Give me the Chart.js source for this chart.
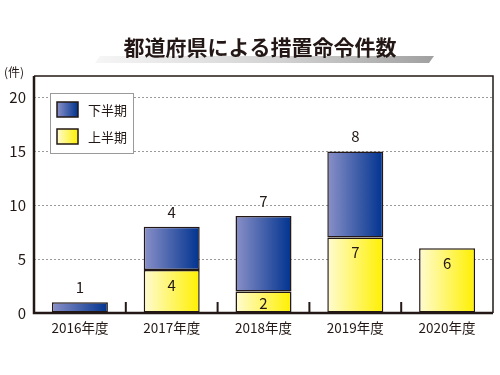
<!DOCTYPE html>
<html><head><meta charset="utf-8">
<script src="https://cdn.jsdelivr.net/npm/chart.js@4/dist/chart.umd.min.js"></script>
<style>html,body{margin:0;padding:0;background:#fff}#wrap{width:500px;height:375px}</style>
</head><body><div id="wrap"><canvas id="c" width="500" height="375"></canvas></div>
<script>
const categories = ['2016年度','2017年度','2018年度','2019年度','2020年度'];
const firstHalf = [0, 4, 2, 7, 6];   // 上半期
const secondHalf = [1, 4, 7, 8, 0];  // 下半期
const yTicks = [0, 5, 10, 15, 20];
const titleText = '都道府県による措置命令件数';
const unitText = '(件)';

const FONT = '"Noto Sans CJK JP", "Noto Sans", sans-serif';
const INK = '#231815';
const BAR_PCT = 0.61;

function grad(ctx, stops) {
  const chart = ctx.chart;
  const xs = chart.scales && chart.scales.x;
  if (!xs || !chart.chartArea) return stops[1];
  const c = xs.getPixelForValue(ctx.dataIndex);
  const w = (xs.width / categories.length) * BAR_PCT;
  const g = chart.ctx.createLinearGradient(c - w / 2, 0, c + w / 2, 0);
  g.addColorStop(0, stops[0]);
  g.addColorStop(1, stops[1]);
  return g;
}
const BLUE = ['#8a90c8', '#00338f'];
const YELLOW = ['#fffbd2', '#fff000'];

const deco = {
  id: 'deco',
  beforeDraw(chart) {
    const ctx = chart.ctx;
    ctx.save();
    const g = ctx.createLinearGradient(95, 0, 434, 0);
    g.addColorStop(0, '#f6f6f6');
    g.addColorStop(0.55, '#d2d2d2');
    g.addColorStop(1, '#a0a0a0');
    ctx.fillStyle = g;
    ctx.beginPath();
    ctx.moveTo(100, 56); ctx.lineTo(434, 56); ctx.lineTo(429, 63); ctx.lineTo(95, 63);
    ctx.closePath(); ctx.fill();
    ctx.fillStyle = INK;
    ctx.font = 'bold 21px ' + FONT;
    ctx.textAlign = 'center'; ctx.textBaseline = 'middle';
    ctx.fillText(titleText, 260, 47);
    ctx.font = '12px ' + FONT;
    ctx.textAlign = 'left';
    ctx.fillText(unitText, 4, 72);
    ctx.restore();
  },
  afterDatasetsDraw(chart) {
    const ctx = chart.ctx;
    const a = chart.chartArea;
    const xs = chart.scales.x;
    ctx.save();
    ctx.strokeStyle = INK;
    ctx.lineWidth = 1.5;
    ctx.beginPath();
    ctx.moveTo(a.left, a.top); ctx.lineTo(a.right, a.top); ctx.lineTo(a.right, a.bottom);
    ctx.stroke();
    ctx.lineWidth = 2.5;
    ctx.beginPath();
    ctx.moveTo(a.left, a.top); ctx.lineTo(a.left, a.bottom); ctx.lineTo(a.right, a.bottom);
    ctx.stroke();
    ctx.lineWidth = 2;
    for (let i = 0; i < categories.length - 1; i++) {
      const x = (xs.getPixelForValue(i) + xs.getPixelForValue(i + 1)) / 2;
      ctx.beginPath(); ctx.moveTo(x, a.bottom); ctx.lineTo(x, a.bottom - 11); ctx.stroke();
    }
    ctx.fillStyle = INK;
    ctx.font = '15px ' + FONT;
    ctx.textAlign = 'center'; ctx.textBaseline = 'middle';
    const mY = chart.getDatasetMeta(0), mB = chart.getDatasetMeta(1);
    firstHalf.forEach((v, i) => {
      if (!v) return;
      const el = mY.data[i];
      const off = Math.min(15, (el.base - el.y) / 2 + 1);
      ctx.fillText(String(v), el.x, el.y + off);
    });
    secondHalf.forEach((v, i) => {
      if (!v) return;
      const el = mB.data[i];
      ctx.fillText(String(v), el.x, el.y - 15);
    });
    ctx.fillStyle = '#fff';
    ctx.fillRect(50, 93, 83, 60);
    ctx.strokeStyle = '#9a9a9a'; ctx.lineWidth = 1;
    ctx.strokeRect(50.5, 93.5, 83, 60);
    const items = [['下半期', BLUE, 102], ['上半期', YELLOW, 129]];
    items.forEach(([t, s, y]) => {
      const lg = ctx.createLinearGradient(57, 0, 78, 0);
      lg.addColorStop(0, s[0]); lg.addColorStop(1, s[1]);
      ctx.fillStyle = lg;
      ctx.fillRect(57, y, 21, 15);
      ctx.strokeStyle = INK; ctx.lineWidth = 1.5;
      ctx.strokeRect(57, y, 21, 15);
      ctx.fillStyle = INK;
      ctx.font = '13px ' + FONT;
      ctx.textAlign = 'left';
      ctx.fillText(t, 88, y + 8);
    });
    ctx.restore();
  }
};

new Chart(document.getElementById('c'), {
  type: 'bar',
  data: {
    labels: categories,
    datasets: [
      { label: '上半期', data: firstHalf, backgroundColor: c => grad(c, YELLOW),
        borderColor: INK, borderWidth: 1.5, borderSkipped: false,
        barPercentage: BAR_PCT, categoryPercentage: 1 },
      { label: '下半期', data: secondHalf, backgroundColor: c => grad(c, BLUE),
        borderColor: INK, borderWidth: 1.5, borderSkipped: false,
        barPercentage: BAR_PCT, categoryPercentage: 1 }
    ]
  },
  options: {
    responsive: false, animation: false,
    layout: { padding: { left: 0, right: 7, top: 76, bottom: 0 } },
    plugins: { legend: { display: false }, tooltip: { enabled: false }, title: { display: false } },
    scales: {
      x: {
        stacked: true, offset: true,
        grid: { display: false, drawTicks: false },
        border: { display: false },
        ticks: { color: INK, font: { family: FONT, size: 13.5 }, padding: 7 },
        afterFit: s => { s.height = 62; }
      },
      y: {
        stacked: true, min: 0, max: 22,
        afterBuildTicks: s => { s.ticks = yTicks.map(v => ({ value: v })); },
        grid: { color: c => c.tick && c.tick.value === 0 ? 'rgba(0,0,0,0)' : '#9a9a9a',
                lineWidth: 1, drawTicks: false },
        border: { display: false, dash: [2, 2] },
        ticks: { color: INK, font: { family: FONT, size: 15 }, padding: 8 },
        afterFit: s => { s.width = 34; }
      }
    }
  },
  plugins: [deco]
});
</script></body></html>
